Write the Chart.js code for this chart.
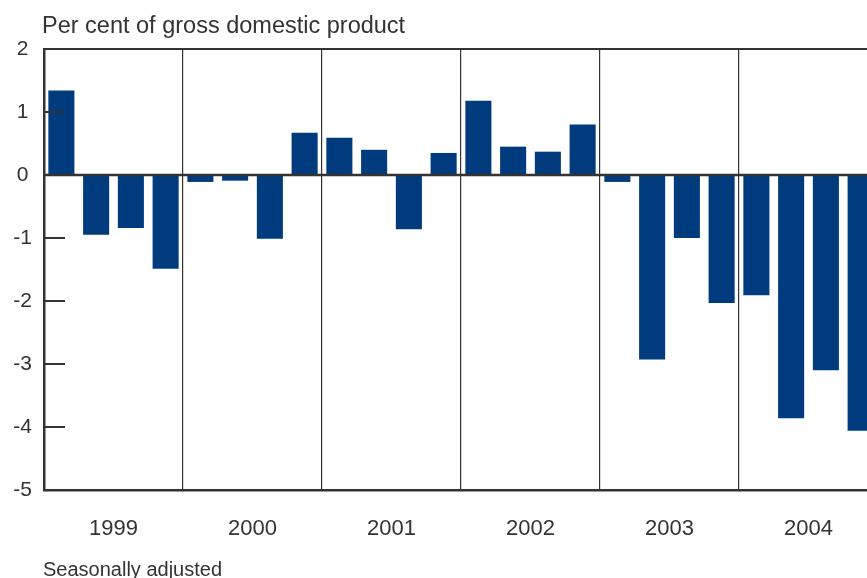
<!DOCTYPE html>
<html>
<head>
<meta charset="utf-8">
<script src="https://cdn.jsdelivr.net/npm/chart.js@4/dist/chart.umd.min.js"></script>
<style>
    html, body { margin: 0; padding: 0; background: #fff; overflow: hidden; }
    #wrap { position: relative; width: 880px; height: 578px; }
    #chart { position: absolute; left: 0; top: 0; }
    .txt { position: absolute; font-family: "Liberation Sans", Arial, sans-serif; color: #333; white-space: nowrap; line-height: 1; }
    #title { left: 42px; top: 13.5px; font-size: 23.5px; }
    #note { left: 43px; top: 559px; font-size: 20px; }
</style>
</head>
<body>
<div id="wrap">
    <canvas id="chart" width="880" height="578"></canvas>
    <div class="txt" id="title">Per cent of gross domestic product</div>
    <div class="txt" id="note">Seasonally adjusted</div>
</div>
<script>
// du lieu
var years = ['1999', '2000', '2001', '2002', '2003', '2004'];
var quarters = ['Q1', 'Q2', 'Q3', 'Q4'];
var yTicks = [2, 1, 0, -1, -2, -3, -4, -5];
var balance = [
    1.34, -0.95, -0.84, -1.49,
    -0.11, -0.09, -1.01, 0.67,
    0.59, 0.40, -0.86, 0.35,
    1.18, 0.45, 0.37, 0.80,
    -0.11, -2.93, -1.00, -2.03,
    -1.91, -3.86, -3.10, -4.06
];

var lsLabel = [];
years.forEach(function (y) {
    quarters.forEach(function (q) { lsLabel.push(y + ' ' + q); });
});

var INK = '#333333';

// ve duong 0 va vach chia ben trong
var innerMarks = {
    id: 'innerMarks',
    afterDatasetsDraw: function (chart) {
        var ctx = chart.ctx;
        var area = chart.chartArea;
        var yScale = chart.scales.y;
        ctx.save();
        ctx.strokeStyle = INK;
        ctx.lineWidth = 2.5;
        var y0 = yScale.getPixelForValue(0);
        ctx.beginPath();
        ctx.moveTo(area.left, y0);
        ctx.lineTo(area.right, y0);
        ctx.stroke();
        ctx.lineWidth = 2;
        yTicks.forEach(function (v) {
            var py = yScale.getPixelForValue(v);
            ctx.beginPath();
            ctx.moveTo(area.left, py);
            ctx.lineTo(area.left + 21, py);
            ctx.stroke();
        });
        ctx.restore();
    }
};

var ctxChart = document.getElementById('chart');
var balanceChart = new Chart(ctxChart, {
    type: 'bar',
    data: {
        labels: lsLabel,
        datasets: [
            {
                label: 'Per cent of GDP',
                backgroundColor: '#003c7d',
                borderWidth: 0,
                barPercentage: 0.75,
                categoryPercentage: 1.0,
                data: balance
            }
        ]
    },
    options: {
        responsive: false,
        animation: false,
        layout: { padding: { top: 49, right: 2, bottom: 0, left: 0 } },
        plugins: {
            legend: { display: false },
            tooltip: { enabled: false },
            title: { display: false }
        },
        scales: {
            x: {
                type: 'category',
                position: 'bottom',
                offset: true,
                grid: {
                    offset: true,
                    drawTicks: false,
                    lineWidth: 1.2,
                    color: function (c) {
                        return (c.index > 0 && c.index < 24 && c.index % 4 === 0) ? INK : 'rgba(0,0,0,0)';
                    }
                },
                border: { display: true, color: INK, width: 2.5 },
                ticks: { display: false },
                afterFit: function (s) { s.height = 0; }
            },
            yr: {
                type: 'category',
                position: 'bottom',
                labels: years,
                offset: true,
                grid: { display: false, drawTicks: false },
                border: { display: false },
                ticks: {
                    padding: 26,
                    autoSkip: false,
                    maxRotation: 0,
                    color: INK,
                    font: { family: '"Liberation Sans", Arial, sans-serif', size: 22 }
                },
                afterFit: function (s) { s.height = 88; }
            },
            y: {
                type: 'linear',
                min: -5,
                max: 2,
                afterBuildTicks: function (s) {
                    s.ticks = yTicks.map(function (v) { return { value: v }; });
                },
                grid: {
                    drawTicks: false,
                    lineWidth: 2,
                    color: function (c) {
                        return (c.tick && c.tick.value === 2) ? INK : 'rgba(0,0,0,0)';
                    }
                },
                border: { display: true, color: INK, width: 2.5 },
                ticks: {
                    padding: 12,
                    crossAlign: 'center',
                    color: INK,
                    font: { family: '"Liberation Sans", Arial, sans-serif', size: 21 }
                },
                afterFit: function (s) { s.width = 44; }
            }
        }
    },
    plugins: [innerMarks]
});
</script>
</body>
</html>
